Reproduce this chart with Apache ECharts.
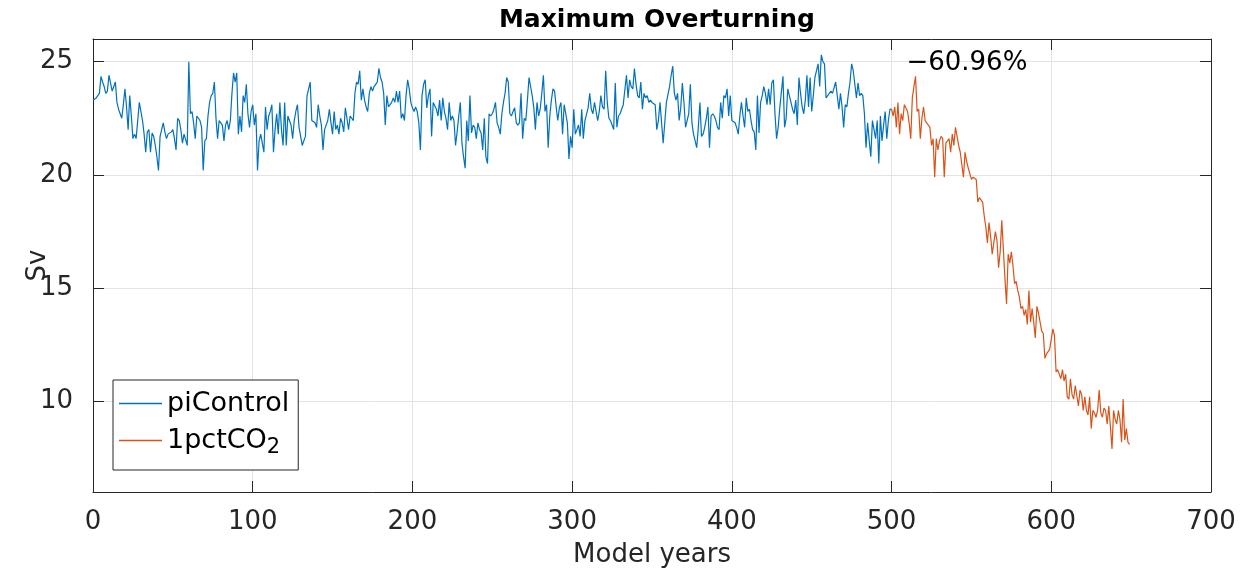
<!DOCTYPE html>
<html>
<head>
<meta charset="utf-8">
<script src="https://cdn.jsdelivr.net/npm/echarts@6/dist/echarts.min.js"></script>
<style>
  html, body { margin: 0; padding: 0; background: #ffffff; }
  #chart { width: 1240px; height: 571px; }
</style>
</head>
<body>
<div id="chart"></div>
<script>
// Annual maximum overturning (Sv), control run, model years 0..500
const piControlStartYear = 0;
const piControl = [
  23.3, 23.3, 23.4, 23.5, 23.6, 24.35, 24.1, 23.9, 23.6, 23.7,
  24.4, 24.4, 23.7, 23.9, 24.1, 23.2, 22.9, 22.7, 22.5, 23.1,
  23.8, 23.0, 22.0, 23.5, 22.6, 21.6, 21.8, 21.6, 22.4, 23.2,
  22.8, 22.4, 21.8, 21.0, 21.9, 22.0, 21.0, 21.85, 21.7, 21.3,
  20.8, 20.2, 21.7, 22.0, 22.3, 21.9, 21.6, 21.8, 21.8, 21.9,
  22.0, 21.6, 21.1, 22.5, 22.4, 22.0, 21.4, 21.8, 21.8, 21.3,
  25.0, 22.7, 22.8, 22.3, 21.6, 22.6, 22.5, 22.4, 22.1, 20.2,
  21.5, 21.6, 22.6, 23.2, 23.5, 23.6, 24.1, 22.5, 21.6, 22.4,
  22.4, 22.2, 21.5, 22.2, 22.4, 22.0, 22.4, 23.6, 24.5, 24.1,
  24.5, 21.8, 22.6, 21.9, 23.5, 23.2, 24.0, 22.7, 22.1, 22.8,
  23.1, 22.2, 22.7, 20.2, 21.5, 21.8, 21.4, 21.0, 23.0, 22.0,
  22.6, 22.8, 23.1, 21.0, 22.0, 22.7, 21.8, 23.2, 22.0, 21.3,
  23.2, 21.3, 22.6, 22.4, 22.2, 21.6, 22.4, 22.8, 23.1, 22.1,
  21.7, 21.3, 21.5, 21.7, 23.5, 23.8, 24.1, 22.4, 22.4, 22.3,
  22.1, 23.1, 22.6, 22.2, 21.1, 22.0, 22.2, 22.4, 22.9, 22.3,
  21.8, 22.8, 22.0, 22.2, 21.8, 22.5, 22.3, 21.9, 22.96, 22.5,
  22.0, 22.6, 22.5, 22.4, 23.6, 24.1, 24.0, 24.6, 23.3, 23.8,
  23.3, 23.0, 22.8, 23.6, 23.9, 23.7, 23.9, 24.0, 24.1, 24.7,
  24.3, 24.1, 23.6, 22.2, 23.5, 23.0, 23.1, 23.2, 23.4, 23.2,
  23.7, 23.2, 23.7, 22.5, 22.7, 22.4, 23.5, 24.2, 23.8, 23.2,
  22.96, 22.8, 23.0, 22.8, 22.3, 21.1, 23.5, 24.0, 24.2, 22.96,
  23.5, 23.8, 21.7, 23.2, 23.2, 22.9, 22.6, 23.3, 22.4, 23.4,
  22.8, 22.5, 22.0, 23.2, 22.4, 22.6, 22.4, 21.3, 21.9, 22.6,
  23.2, 21.4, 20.8, 20.3, 22.4, 21.5, 23.5, 21.85, 22.2, 22.1,
  21.6, 22.3, 22.0, 21.85, 21.1, 22.5, 20.8, 20.5, 22.7, 22.6,
  22.7, 22.9, 23.2, 22.3, 22.1, 21.8, 22.7, 23.2, 23.6, 24.3,
  24.1, 22.7, 22.6, 22.8, 22.96, 22.3, 22.2, 22.3, 23.6, 21.6,
  22.5, 22.4, 23.3, 24.3, 24.35, 23.5, 22.96, 22.0, 23.2, 22.6,
  22.9, 23.6, 24.4, 22.8, 23.1, 21.2, 22.6, 23.3, 23.8, 23.7,
  23.0, 22.4, 22.96, 23.2, 21.8, 23.1, 22.7, 22.3, 20.7, 21.7,
  21.2, 22.9, 21.8, 22.0, 22.2, 21.7, 22.9, 21.6, 22.4, 22.4,
  22.96, 23.6, 22.9, 22.7, 23.2, 22.8, 22.4, 22.8, 23.5, 23.0,
  22.9, 24.6, 23.2, 22.5, 22.4, 22.2, 22.0, 24.06, 22.1, 22.6,
  22.7, 22.9, 23.1, 23.1, 24.4, 23.4, 24.2, 23.9, 23.8, 24.7,
  24.0, 23.5, 23.4, 24.1, 22.9, 23.6, 23.4, 23.5, 23.2, 23.3,
  23.2, 23.2, 23.1, 22.0, 22.4, 23.2, 23.2, 21.4, 22.3, 23.2,
  23.2, 23.9, 24.4, 24.8, 23.6, 23.3, 23.6, 22.4, 22.96, 24.06,
  23.2, 22.1, 22.4, 22.7, 24.0, 22.3, 21.8, 21.5, 21.2, 22.1,
  23.2, 21.7, 21.8, 22.1, 22.5, 23.0, 21.2, 22.6, 22.7, 22.6,
  22.4, 22.1, 22.0, 23.2, 22.5, 23.5, 23.4, 23.8, 22.6, 23.5,
  22.4, 22.4, 22.3, 22.1, 21.8, 22.6, 23.2, 22.6, 22.1, 23.4,
  22.8, 22.9, 22.4, 22.0, 21.9, 21.1, 23.5, 21.85, 23.2, 23.5,
  23.9, 23.6, 23.1, 23.8, 23.1, 24.06, 24.2, 22.7, 21.6, 22.1,
  22.96, 23.0, 24.35, 22.1, 22.5, 23.8, 23.5, 23.2, 22.9, 22.7,
  23.3, 22.2, 24.3, 23.6, 23.0, 22.7, 23.3, 24.4, 23.0, 24.3,
  22.8, 23.5, 24.3, 24.6, 24.9, 23.9, 25.3, 25.0, 24.9, 23.4,
  23.5, 23.6, 23.7, 23.6, 23.6, 24.1, 23.5, 22.9, 23.6, 23.0,
  22.1, 23.1, 23.0, 23.6, 24.1, 24.9, 24.6, 24.6, 23.4, 24.06,
  23.5, 23.6, 23.5, 22.7, 21.2, 22.3, 21.5, 20.8, 22.4, 22.4,
  21.6, 22.4, 20.5, 22.6, 21.5, 22.2, 22.8, 21.6, 22.4, 22.9,
  22.9
];

// Annual maximum overturning (Sv), 1% per year CO2 run, model years 500..649
const co2StartYear = 500;
const pctCO2 = [
  22.9, 22.6, 23.0, 22.1, 23.2, 21.8, 22.7, 22.4, 23.1, 23.1,
  22.8, 22.3, 21.6, 23.4, 23.9, 24.35, 22.8, 22.9, 21.6, 22.5,
  23.0, 22.4, 22.3, 22.2, 22.1, 21.3, 21.6, 19.9, 21.6, 21.1,
  21.5, 21.7, 21.6, 19.9, 21.4, 21.5, 21.6, 21.0, 21.8, 21.3,
  22.1, 21.7, 21.3, 21.0, 21.0, 19.9, 21.0, 20.6, 20.3, 20.3,
  19.8, 19.9, 19.9, 19.8, 18.8, 19.0, 19.0, 18.8, 18.2, 17.7,
  17.0, 17.9, 17.3, 16.5, 17.0, 17.5, 17.1, 15.9, 16.6, 18.0,
  16.7, 15.4, 14.3, 16.5, 16.1, 16.6, 16.0, 15.2, 15.3, 14.9,
  14.6, 14.1, 14.2, 13.8, 14.06, 13.4, 14.9, 13.5, 14.1, 13.5,
  12.8, 14.2, 13.9, 13.9, 13.1, 13.0, 11.9, 12.1, 12.2, 12.3,
  12.3, 13.2, 12.9, 11.3, 11.4, 11.2, 11.0, 11.4, 10.9, 11.2,
  10.2, 10.1, 11.0, 10.3, 10.1, 10.7, 10.7, 9.8, 10.5, 10.3,
  9.6, 10.2, 9.6, 9.4, 10.2, 8.8, 9.6, 9.5, 9.3, 9.6,
  10.5, 9.5, 9.3, 9.7, 9.6, 9.0, 9.8, 8.9, 7.9, 9.6,
  9.2, 9.0, 9.6, 9.2, 8.2, 10.1, 8.3, 8.8, 8.2, 8.1
];

const seriesNames = ['piControl', '1pctCO2'];
const xTicks = [0, 100, 200, 300, 400, 500, 600, 700];
const yTicks = [10, 15, 20, 25];
const changeText = '\u221260.96%';
const changeAt = [509, 24.95];

const FONT = 'DejaVu Sans';
const INK = '#262626';
const GRID = '#e3e3e3';

const toPairs = (start, vals) => vals.map((v, i) => [start + i, v]);

const chart = echarts.init(document.getElementById('chart'), null, { renderer: 'canvas' });

const tickStyle = { show: true, inside: true, length: 11, lineStyle: { color: INK, width: 1 } };
const lineStyleAxis = { show: true, onZero: false, lineStyle: { color: INK, width: 1 } };

chart.setOption({
  backgroundColor: '#ffffff',
  animation: false,
  title: {
    text: 'Maximum Overturning',
    left: 652,
    top: 3,
    textAlign: 'center',
    textStyle: { fontFamily: FONT, fontSize: 25, fontWeight: 'bold', color: '#000' }
  },
  grid: {
    left: 93, right: 29, top: 39, bottom: 79,
    containLabel: false, outerBoundsMode: 'none'
  },
  legend: {
    orient: 'vertical',
    left: 113,
    top: 380,
    backgroundColor: '#ffffff',
    borderColor: INK,
    borderWidth: 1,
    borderRadius: 0,
    padding: [10, 9, 12, 6],
    itemGap: 10,
    itemWidth: 43,
    itemHeight: 1.3,
    icon: 'rect',
    data: seriesNames,
    formatter: name => name === '1pctCO2' ? '1pctCO{sub|2}' : name,
    textStyle: {
      fontFamily: FONT, fontSize: 27, color: '#000',
      rich: { sub: { fontFamily: FONT, fontSize: 21, padding: [14, 0, 0, 0] } }
    }
  },
  xAxis: [
    {
      type: 'value', min: 0, max: 700, interval: 100, position: 'bottom',
      axisLine: lineStyleAxis, axisTick: tickStyle,
      axisLabel: { fontFamily: FONT, fontSize: 26, color: INK, margin: 17 },
      splitLine: { show: true, lineStyle: { color: GRID, width: 1 } },
      name: 'Model years', nameLocation: 'middle', nameGap: 50, nameMoveOverlap: false,
      nameTextStyle: { fontFamily: FONT, fontSize: 26, color: INK }
    },
    {
      type: 'value', min: 0, max: 700, interval: 100, position: 'top',
      axisLine: lineStyleAxis, axisTick: tickStyle,
      axisLabel: { show: false }, splitLine: { show: false }
    }
  ],
  yAxis: [
    {
      type: 'value', min: 6, max: 26, position: 'left',
      axisLine: lineStyleAxis,
      axisTick: Object.assign({ customValues: yTicks }, tickStyle),
      axisLabel: { customValues: yTicks, fontFamily: FONT, fontSize: 26, color: INK, margin: 20 },
      splitLine: { show: true, lineStyle: { color: GRID, width: 1 } },
      name: 'Sv', nameLocation: 'middle', nameGap: 42, nameRotate: 90, nameMoveOverlap: false,
      nameTextStyle: { fontFamily: FONT, fontSize: 26, color: INK }
    },
    {
      type: 'value', min: 6, max: 26, position: 'right',
      axisLine: lineStyleAxis,
      axisTick: Object.assign({ customValues: yTicks }, tickStyle),
      axisLabel: { show: false }, splitLine: { show: false }
    }
  ],
  series: [
    {
      name: seriesNames[0], type: 'line', xAxisIndex: 0, yAxisIndex: 0,
      symbol: 'none', smooth: false,
      lineStyle: { color: '#0072BD', width: 1.2 },
      itemStyle: { color: '#0072BD' },
      data: toPairs(piControlStartYear, piControl),
      z: 3
    },
    {
      name: seriesNames[1], type: 'line', xAxisIndex: 0, yAxisIndex: 0,
      symbol: 'none', smooth: false,
      lineStyle: { color: '#D95319', width: 1.2 },
      itemStyle: { color: '#D95319' },
      data: toPairs(co2StartYear, pctCO2),
      z: 3,
      markPoint: {
        silent: true,
        symbol: 'circle', symbolSize: 1,
        itemStyle: { color: 'rgba(0,0,0,0)' },
        label: {
          show: true, position: 'right', distance: 0,
          formatter: changeText,
          fontFamily: FONT, fontSize: 26, color: '#000'
        },
        data: [{ coord: changeAt }]
      }
    }
  ]
});
</script>
</body>
</html>
